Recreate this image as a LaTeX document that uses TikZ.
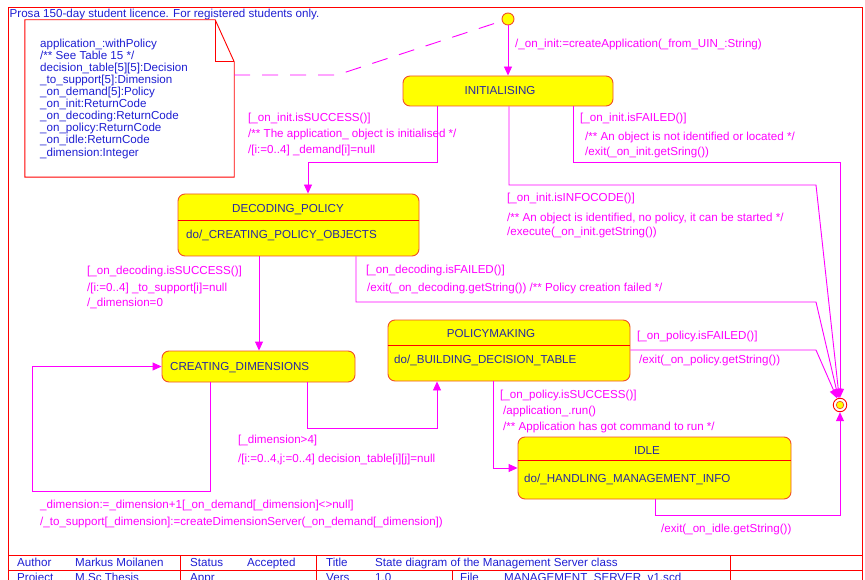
\documentclass[tikz,border=0pt]{standalone}
\usepackage{fontspec}
\setmainfont{Liberation Sans}
\usetikzlibrary{arrows.meta}
\definecolor{mag}{RGB}{255,0,255}
\definecolor{stfill}{RGB}{255,255,0}
\definecolor{stedge}{RGB}{240,80,40}
\definecolor{sttxt}{RGB}{40,40,160}
\definecolor{bluetxt}{RGB}{30,30,210}
\definecolor{framered}{RGB}{255,0,0}
\newcommand{\dfont}{\fontsize{11.6}{12.1}\selectfont}
\begin{document}
\begin{tikzpicture}[x=1pt,y=-1pt,
  lbl/.style={anchor=base west, inner sep=0, text=mag, font=\dfont},
  sttitle/.style={anchor=base, inner sep=0, text=sttxt, font=\dfont},
  stdo/.style={anchor=base west, inner sep=0, text=sttxt, font=\dfont},
  tbl/.style={anchor=base west, inner sep=0, text=bluetxt, font=\dfont},
  statebox/.style={draw=stedge, fill=stfill, rounded corners=7pt, line width=0.9pt, inner sep=0},
  sep/.style={draw=framered, line width=0.8pt},
  tr/.style={draw=mag, line width=0.9pt, -{Triangle[length=9pt,width=8pt]}},
  dashline/.style={draw=mag, line width=0.9pt, dash pattern=on 16pt off 12pt},
  framel/.style={draw=framered, line width=0.9pt}]
\useasboundingbox (0,0) rectangle (865,580);
\clip (0,0) rectangle (865,580);

% drawing frame and title block
\draw[framel] (8,7) rectangle (862,600);
\draw[framel] (8,555) -- (862,555);
\draw[framel] (8,570) -- (862,570);
\draw[framel] (180,555) -- (180,600);
\draw[framel] (316,555) -- (316,600);
\draw[framel] (730,555) -- (730,600);
\draw[framel] (452,570) -- (452,600);
\node[tbl] (lic) at (9.5,18) {Prosa 150-day student licence. For registered students only.};
\node[tbl] (tb1) at (17,566.5) {Author};
\node[tbl] (tb2) at (75,566.5) {Markus Moilanen};
\node[tbl] (tb3) at (190,566.5) {Status};
\node[tbl] (tb4) at (247,566.5) {Accepted};
\node[tbl] (tb5) at (326,566.5) {Title};
\node[tbl] (tb6) at (375,566.5) {State diagram of the Management Server class};
\node[tbl] (tb7) at (17,581) {Project};
\node[tbl] (tb8) at (75,581) {M.Sc Thesis};
\node[tbl] (tb9) at (190,581) {Appr};
\node[tbl] (tb10) at (326,581) {Vers};
\node[tbl] (tb11) at (375,581) {1.0};
\node[tbl] (tb12) at (460,581) {File};
\node[tbl] (tb13) at (504,581) {MANAGEMENT\_SERVER\_v1.scd};

% class attribute note
\node[minimum width=209, minimum height=157, inner sep=0] (note) at (129.5,98.5) {};
\draw[framel] (note.south west) -- (note.north west) -- ([xshift=-19pt]note.north east)
  -- ([yshift=-42pt]note.north east) -- (note.south east) -- cycle;
\draw[framel] ([xshift=-19pt]note.north east) -- ([xshift=-19pt,yshift=-42pt]note.north east)
  -- ([yshift=-42pt]note.north east);
\node[anchor=north west, inner sep=0, text=bluetxt, font=\dfont, align=left] (notetext) at (40,38.5)
 {application\_:withPolicy\\
  /** See Table 15 */\\
  decision\_table[5][5]:Decision\\
  \_to\_support[5]:Dimension\\
  \_on\_demand[5]:Policy\\
  \_on\_init:ReturnCode\\
  \_on\_decoding:ReturnCode\\
  \_on\_policy:ReturnCode\\
  \_on\_idle:ReturnCode\\
  \_dimension:Integer};

% pseudo states
\node[circle, draw=stedge, fill=stfill, line width=0.9pt, minimum size=12, inner sep=0] (init) at (508,19) {};
\node[circle, draw=framered, line width=0.9pt, minimum size=13.5, inner sep=0] (final) at (840,405) {};
\node[circle, draw=stedge, fill=stfill, line width=0.7pt, minimum size=7.5, inner sep=0] (finaldot) at (840,405) {};

% states
\node[statebox, minimum width=210, minimum height=30] (s_init) at (508,91) {};
\node[sttitle] (s_init_t) at (500,95) {INITIALISING};

\node[statebox, minimum width=241, minimum height=62] (s_dec) at (298.5,225) {};
\draw[sep] (s_dec.west |- 0,220) -- (s_dec.east |- 0,220);
\node[sttitle] (s_dec_t) at (288,213) {DECODING\_POLICY};
\node[stdo] (s_dec_d) at (186,239) {do/\_CREATING\_POLICY\_OBJECTS};

\node[statebox, minimum width=193, minimum height=31] (s_dim) at (258.5,366.5) {};
\node[stdo] (s_dim_t) at (170,370) {CREATING\_DIMENSIONS};

\node[statebox, minimum width=242, minimum height=61] (s_pol) at (509,350.5) {};
\draw[sep] (s_pol.west |- 0,345) -- (s_pol.east |- 0,345);
\node[sttitle] (s_pol_t) at (491,337) {POLICYMAKING};
\node[stdo] (s_pol_d) at (394,363) {do/\_BUILDING\_DECISION\_TABLE};

\node[statebox, minimum width=273, minimum height=62] (s_idle) at (654.5,468) {};
\draw[sep] (s_idle.west |- 0,460) -- (s_idle.east |- 0,460);
\node[sttitle] (s_idle_t) at (647,454) {IDLE};
\node[stdo] (s_idle_d) at (524,482) {do/\_HANDLING\_MANAGEMENT\_INFO};

% note anchor line
\coordinate (nk) at (337,75);
\draw[dashline] (note.east |- nk) -- (nk) -- (init);

% initial transition
\draw[tr] (init) -- (s_init.north);
\node[lbl] (l0) at (515,48) {/\_on\_init:=createApplication(\_from\_UIN\_:String)};

% INITIALISING -> DECODING_POLICY
\coordinate (a1) at (437,162);
\coordinate (a2) at (308,162);
\draw[tr] (a1 |- s_init.south) -- (a1) -- (a2) -- (a2 |- s_dec.north);
\node[lbl] (l1a) at (248,122) {[\_on\_init.isSUCCESS()]};
\node[lbl] (l1b) at (248,138) {/** The application\_ object is initialised */};
\node[lbl] (l1c) at (248,154) {/[i:=0..4] \_demand[i]=null};

% INITIALISING failed
\coordinate (b1) at (573,162);
\coordinate (b2) at (840,162);
\draw[tr] (b1 |- s_init.south) -- (b1) -- (b2) -- (final);
\node[lbl] (l2a) at (580,122) {[\_on\_init.isFAILED()]};
\node[lbl] (l2b) at (585,141) {/** An object is not identified or located */};
\node[lbl] (l2c) at (585,156) {/exit(\_on\_init.getSring())};

% INITIALISING info code
\coordinate (c1) at (509,185);
\coordinate (c2) at (816,185);
\draw[tr] (c1 |- s_init.south) -- (c1) -- (c2) -- (final);
\node[lbl] (l3a) at (507,202) {[\_on\_init.isINFOCODE()]};
\node[lbl] (l3b) at (507,222) {/** An object is identified, no policy, it can be started */};
\node[lbl] (l3c) at (507,236) {/execute(\_on\_init.getString())};

% DECODING_POLICY -> CREATING_DIMENSIONS
\coordinate (d1) at (259,300);
\draw[tr] (d1 |- s_dec.south) -- (d1 |- s_dim.north);
\node[lbl] (l4a) at (87,275) {[\_on\_decoding.isSUCCESS()]};
\node[lbl] (l4b) at (87,291) {/[i:=0..4] \_to\_support[i]=null};
\node[lbl] (l4c) at (87,306) {/\_dimension=0};

% DECODING_POLICY failed
\coordinate (e1) at (356,302);
\coordinate (e2) at (816,302);
\draw[tr] (e1 |- s_dec.south) -- (e1) -- (e2) -- (final);
\node[lbl] (l5a) at (366,273) {[\_on\_decoding.isFAILED()]};
\node[lbl] (l5b) at (367,291) {/exit(\_on\_decoding.getString()) /** Policy creation failed */};

% CREATING_DIMENSIONS self loop
\coordinate (f1) at (210,491);
\coordinate (f2) at (32,491);
\coordinate (f3) at (32,366.5);
\draw[tr] (f1 |- s_dim.south) -- (f1) -- (f2) -- (f3) -- (s_dim.west);
\node[lbl] (l6a) at (40,508) {\_dimension:=\_dimension+1[\_on\_demand[\_dimension]<>null]};
\node[lbl] (l6b) at (40,525) {/\_to\_support[\_dimension]:=createDimensionServer(\_on\_demand[\_dimension])};

% CREATING_DIMENSIONS -> POLICYMAKING
\coordinate (g1) at (307,428);
\coordinate (g2) at (437,428);
\draw[tr] (g1 |- s_dim.south) -- (g1) -- (g2) -- (g2 |- s_pol.south);
\node[lbl] (l7a) at (238,443) {[\_dimension>4]};
\node[lbl] (l7b) at (238,462) {/[i:=0..4,j:=0..4] decision\_table[i][j]=null};

% POLICYMAKING failed
\coordinate (h1) at (816,350);
\draw[tr] (s_pol.east |- h1) -- (h1) -- (final);
\node[lbl] (l8a) at (637,339) {[\_on\_policy.isFAILED()]};
\node[lbl] (l8b) at (639,363) {/exit(\_on\_policy.getString())};

% POLICYMAKING -> IDLE
\coordinate (i1) at (493,468);
\draw[tr] (i1 |- s_pol.south) -- (i1) -- (s_idle.west);
\node[lbl] (l9a) at (500,398) {[\_on\_policy.isSUCCESS()]};
\node[lbl] (l9b) at (503,414) {/application\_.run()};
\node[lbl] (l9c) at (503,430) {/** Application has got command to run */};

% IDLE exit
\coordinate (j1) at (655,515);
\coordinate (j2) at (840,515);
\draw[tr] (j1 |- s_idle.south) -- (j1) -- (j2) -- (final);
\node[lbl] (l10) at (661,532) {/exit(\_on\_idle.getString())};
\end{tikzpicture}
\end{document}
